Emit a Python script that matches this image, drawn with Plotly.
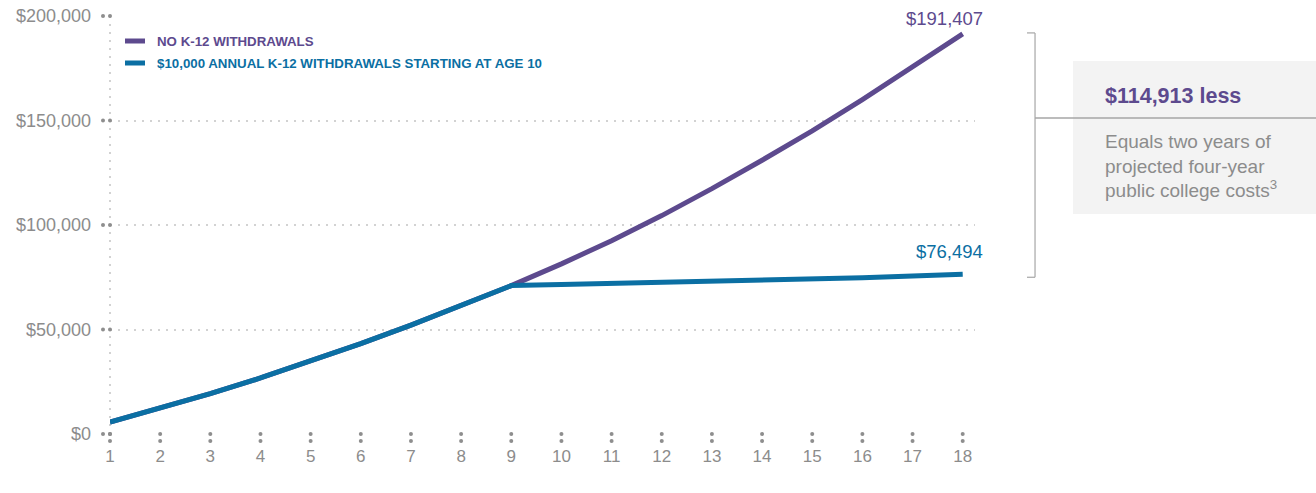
import plotly.graph_objects as go

# ---------------- data ----------------
ages = list(range(1, 19))
no_withdrawals = [5700, 12200, 19300, 26800, 34800, 43200, 52100, 61400, 71000,
                  81400, 92500, 104500, 117400, 131000, 145000, 160000, 175400, 191407]
with_withdrawals = [5700, 12200, 19300, 26800, 34800, 43200, 52100, 61400, 71000,
                    71500, 72000, 72600, 73100, 73600, 74200, 74800, 75600, 76494]
series_names = ["NO K-12 WITHDRAWALS", "$10,000 ANNUAL K-12 WITHDRAWALS STARTING AT AGE 10"]
y_ticks = [0, 50000, 100000, 150000, 200000]
y_tick_labels = ["$0", "$50,000", "$100,000", "$150,000", "$200,000"]
end_labels = ["$191,407", "$76,494"]
difference_title = "$114,913 less"
difference_text = "Equals two years of<br>projected four-year<br>public college costs<sup>3</sup>"

# ---------------- style ----------------
PURPLE = "#5d4a8e"
TEAL = "#0b6fa3"
GRAY_TXT = "#8c8c8c"
GRID = "#d2d2d2"
DOT = "#8e8e8e"
FONT = "Liberation Sans, Arial, sans-serif"

X_RANGE = [ages[0], 18.245]
Y_RANGE = [y_ticks[0], y_ticks[-1]]


def xdom(v):
    return (v - X_RANGE[0]) / (X_RANGE[1] - X_RANGE[0])


def ydom(v):
    return (v - Y_RANGE[0]) / (Y_RANGE[1] - Y_RANGE[0])


fig = go.Figure()
fig.add_trace(go.Scatter(x=ages, y=no_withdrawals, mode="lines", name=series_names[0],
                         line=dict(color=PURPLE, width=5), showlegend=False, cliponaxis=False))
fig.add_trace(go.Scatter(x=ages, y=with_withdrawals, mode="lines", name=series_names[1],
                         line=dict(color=TEAL, width=5), showlegend=False, cliponaxis=False))

shapes = []
# dotted vertical axis line
shapes.append(dict(type="line", xref="x domain", yref="y domain", x0=0, x1=0, y0=0, y1=1,
                   line=dict(color=GRID, width=2, dash="2px,6px"), layer="below"))
# x tick dots
for a in ages:
    for (p0, p1) in [(-2, 2), (-9, -5)]:
        shapes.append(dict(type="circle", xref="x domain", yref="y domain",
                           xsizemode="pixel", ysizemode="pixel",
                           xanchor=xdom(a), yanchor=0, x0=-2, x1=2, y0=p0, y1=p1,
                           fillcolor=DOT, line=dict(width=0)))
# y tick dots
for t in y_ticks:
    for (p0, p1) in [(-9, -5), (-2, 2)]:
        shapes.append(dict(type="circle", xref="x domain", yref="y domain",
                           xsizemode="pixel", ysizemode="pixel",
                           xanchor=0, yanchor=ydom(t), x0=p0, x1=p1, y0=-2, y1=2,
                           fillcolor=DOT, line=dict(width=0)))

# legend swatches
for i, col in enumerate([PURPLE, TEAL]):
    shapes.append(dict(type="line", xref="paper", yref="paper", xsizemode="pixel", ysizemode="pixel",
                       xanchor=0, yanchor=1, x0=15, x1=35, y0=-25 - 22 * i, y1=-25 - 22 * i,
                       line=dict(color=col, width=5)))

# grey box
shapes.append(dict(type="rect", xref="paper", yref="paper", x0=1.1133, x1=1.40, y0=0.5263, y1=0.8923,
                   fillcolor="#f3f3f3", line=dict(width=0), layer="below"))
# bracket
BR = "#a6a6a6"
top_b = ydom(no_withdrawals[-1] + 500)
bot_b = ydom(with_withdrawals[-1] - 1500)
shapes.append(dict(type="line", xref="paper", yref="paper", x0=1.0694, x1=1.0694,
                   y0=bot_b, y1=top_b, line=dict(color=BR, width=1.2)))
shapes.append(dict(type="line", xref="paper", yref="paper", x0=1.0601, x1=1.0694,
                   y0=top_b, y1=top_b, line=dict(color=BR, width=1.2)))
shapes.append(dict(type="line", xref="paper", yref="paper", x0=1.0601, x1=1.0694,
                   y0=bot_b, y1=bot_b, line=dict(color=BR, width=1.2)))
shapes.append(dict(type="line", xref="paper", yref="paper", x0=1.0694, x1=1.40, y0=0.756, y1=0.756,
                   line=dict(color=BR, width=1.5)))

annotations = []
for i, (name, col) in enumerate(zip(series_names, [PURPLE, TEAL])):
    annotations.append(dict(xref="paper", yref="paper", x=0, y=1, xshift=45, yshift=-25 - 22 * i,
                            xanchor="left", yanchor="middle", showarrow=False, text="<b>%s</b>" % name,
                            font=dict(family=FONT, size=13.3, color=col)))
annotations.append(dict(x=ages[-1], y=no_withdrawals[-1], xref="x", yref="y", xanchor="right",
                        yanchor="middle", xshift=22, yshift=15, showarrow=False, text=end_labels[0],
                        font=dict(family=FONT, size=18.5, color=PURPLE)))
annotations.append(dict(x=ages[-1], y=with_withdrawals[-1], xref="x", yref="y", xanchor="right",
                        yanchor="middle", xshift=22, yshift=23, showarrow=False, text=end_labels[1],
                        font=dict(family=FONT, size=18.5, color=TEAL)))
annotations.append(dict(xref="paper", yref="paper", x=1.1476, y=0.8086, xanchor="left", yanchor="middle",
                        showarrow=False, text="<b>%s</b>" % difference_title,
                        font=dict(family=FONT, size=21.5, color=PURPLE)))
annotations.append(dict(xref="paper", yref="paper", x=1.1476, y=0.641, xanchor="left", yanchor="middle",
                        align="left", showarrow=False, text=difference_text,
                        font=dict(family=FONT, size=19, color=GRAY_TXT)))

fig.update_layout(
    width=1316, height=493,
    margin=dict(l=110, r=341, t=16, b=59, autoexpand=False),
    paper_bgcolor="white", plot_bgcolor="white",
    showlegend=False,
    shapes=shapes, annotations=annotations,
    font=dict(family=FONT, color=GRAY_TXT),
)
fig.update_xaxes(range=X_RANGE, tickvals=ages, ticktext=[str(a) for a in ages],
                 showgrid=False, zeroline=False, showline=False, ticks="", ticklabelstandoff=10,
                 ticklabeloverflow="allow",
                 tickfont=dict(family=FONT, size=17, color=GRAY_TXT), automargin=False, fixedrange=True)
fig.update_yaxes(range=Y_RANGE, tickvals=y_ticks, ticktext=y_tick_labels,
                 showgrid=True, gridcolor=GRID, gridwidth=2, griddash="2px,6px",
                 zeroline=False, showline=False, ticks="", ticklabelstandoff=18,
                 ticklabeloverflow="allow",
                 tickfont=dict(family=FONT, size=18, color=GRAY_TXT), automargin=False, fixedrange=True)

fig.write_html("out.html", config={"displayModeBar": False},
               post_script="document.body.style.margin='0';document.body.style.overflow='hidden';")
